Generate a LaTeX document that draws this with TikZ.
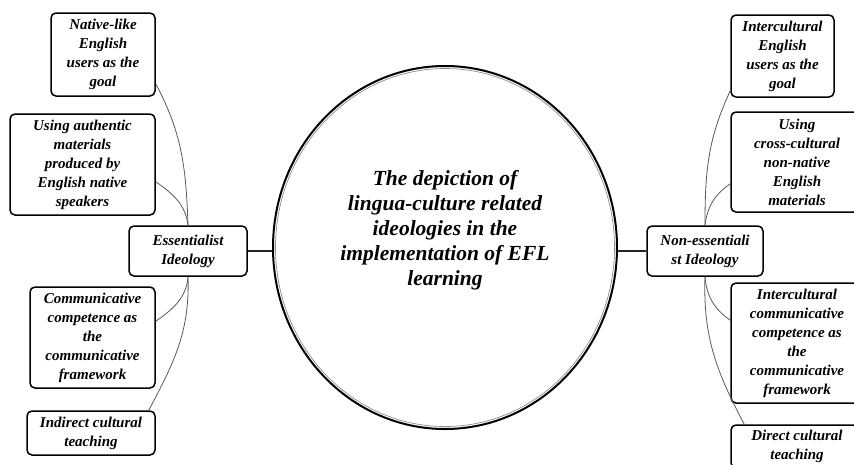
\documentclass[tikz,border=0pt]{standalone}
\usepackage{fontspec}
\setmainfont{Liberation Serif}
\usetikzlibrary{shapes.geometric,calc}
\begin{document}
\begin{tikzpicture}[x=1pt,y=1pt,
  box/.style={draw, line width=1.5pt, rounded corners=5pt, align=center, inner sep=1pt,
    font=\fontsize{15}{19}\selectfont\bfseries\itshape},
  conn/.style={draw=black!65, line width=0.8pt},
  hline/.style={draw=black!85, line width=1.1pt}]
\useasboundingbox (0,0) rectangle (854,-464);
% central ellipse
\node[ellipse, draw, line width=2pt, minimum width=344, minimum height=363, inner sep=0] (circ) at (445,-247.5) {};
\draw[black!45, line width=0.7pt] (445,-247.5) ellipse [x radius=169.5, y radius=179];
\node[align=center, font=\fontsize{21.5}{25}\selectfont\bfseries\itshape] (title) at (445,-230)
  {The depiction of\\lingua-culture related\\ideologies in the\\implementation of EFL\\learning};
% left
\node[box, minimum width=104, minimum height=83] (nat) at (103,-54.5) {Native-like\\English\\users as the\\goal};
\node[box, minimum width=145, minimum height=101] (auth) at (82.5,-164.5) {Using authentic\\materials\\produced by\\English native\\speakers};
\node[box, minimum width=118, minimum height=50] (ess) at (188,-251) {Essentialist\\Ideology};
\node[box, minimum width=125, minimum height=101] (comm) at (92.5,-337.5) {Communicative\\competence as\\the\\communicative\\framework};
\node[box, minimum width=128, minimum height=44] (ind) at (91,-433) {Indirect cultural\\teaching};
% right
\node[box, minimum width=103, minimum height=82] (int) at (782.5,-56) {Intercultural\\English\\users as the\\goal};
\node[box, minimum width=132, minimum height=100] (cross) at (797,-162) {Using\\cross-cultural\\non-native\\English\\materials};
\node[box, minimum width=116, minimum height=50] (non) at (705,-251) {Non-essentiali\\st Ideology};
\node[box, minimum width=132, minimum height=120] (icc) at (797,-343) {Intercultural\\communicative\\competence as\\the\\communicative\\framework};
\node[box, minimum width=132, minimum height=43] (dir) at (797,-446.5) {Direct cultural\\teaching};
% connectors
\draw[hline] (ess.east) -- (ess.east -| circ.west);
\draw[hline] (non.west) -- (non.west -| circ.east);
\draw[conn] (ess.north) to[out=92, in=-62] ($(nat.south east)+(0,13)$);
\draw[conn] (ess.north) to[out=97, in=-35] ($(auth.south east)+(0,34)$);
\draw[conn] (ess.south) to[out=-95, in=35] ($(comm.north east)+(0,-35)$);
\draw[conn] (ess.south) to[out=-88, in=62] ($(ind.north east)+(-7,0)$);
\draw[conn] (non.north) to[out=90, in=-115] ($(int.south west)+(0,7)$);
\draw[conn] (non.north) to[out=83, in=-145] ($(cross.south west)+(0,29)$);
\draw[conn] (non.south) to[out=-85, in=145] ($(icc.north west)+(0,-38)$);
\draw[conn] (non.south) to[out=-92, in=118] ($(dir.north west)+(14,0)$);
\end{tikzpicture}
\end{document}
